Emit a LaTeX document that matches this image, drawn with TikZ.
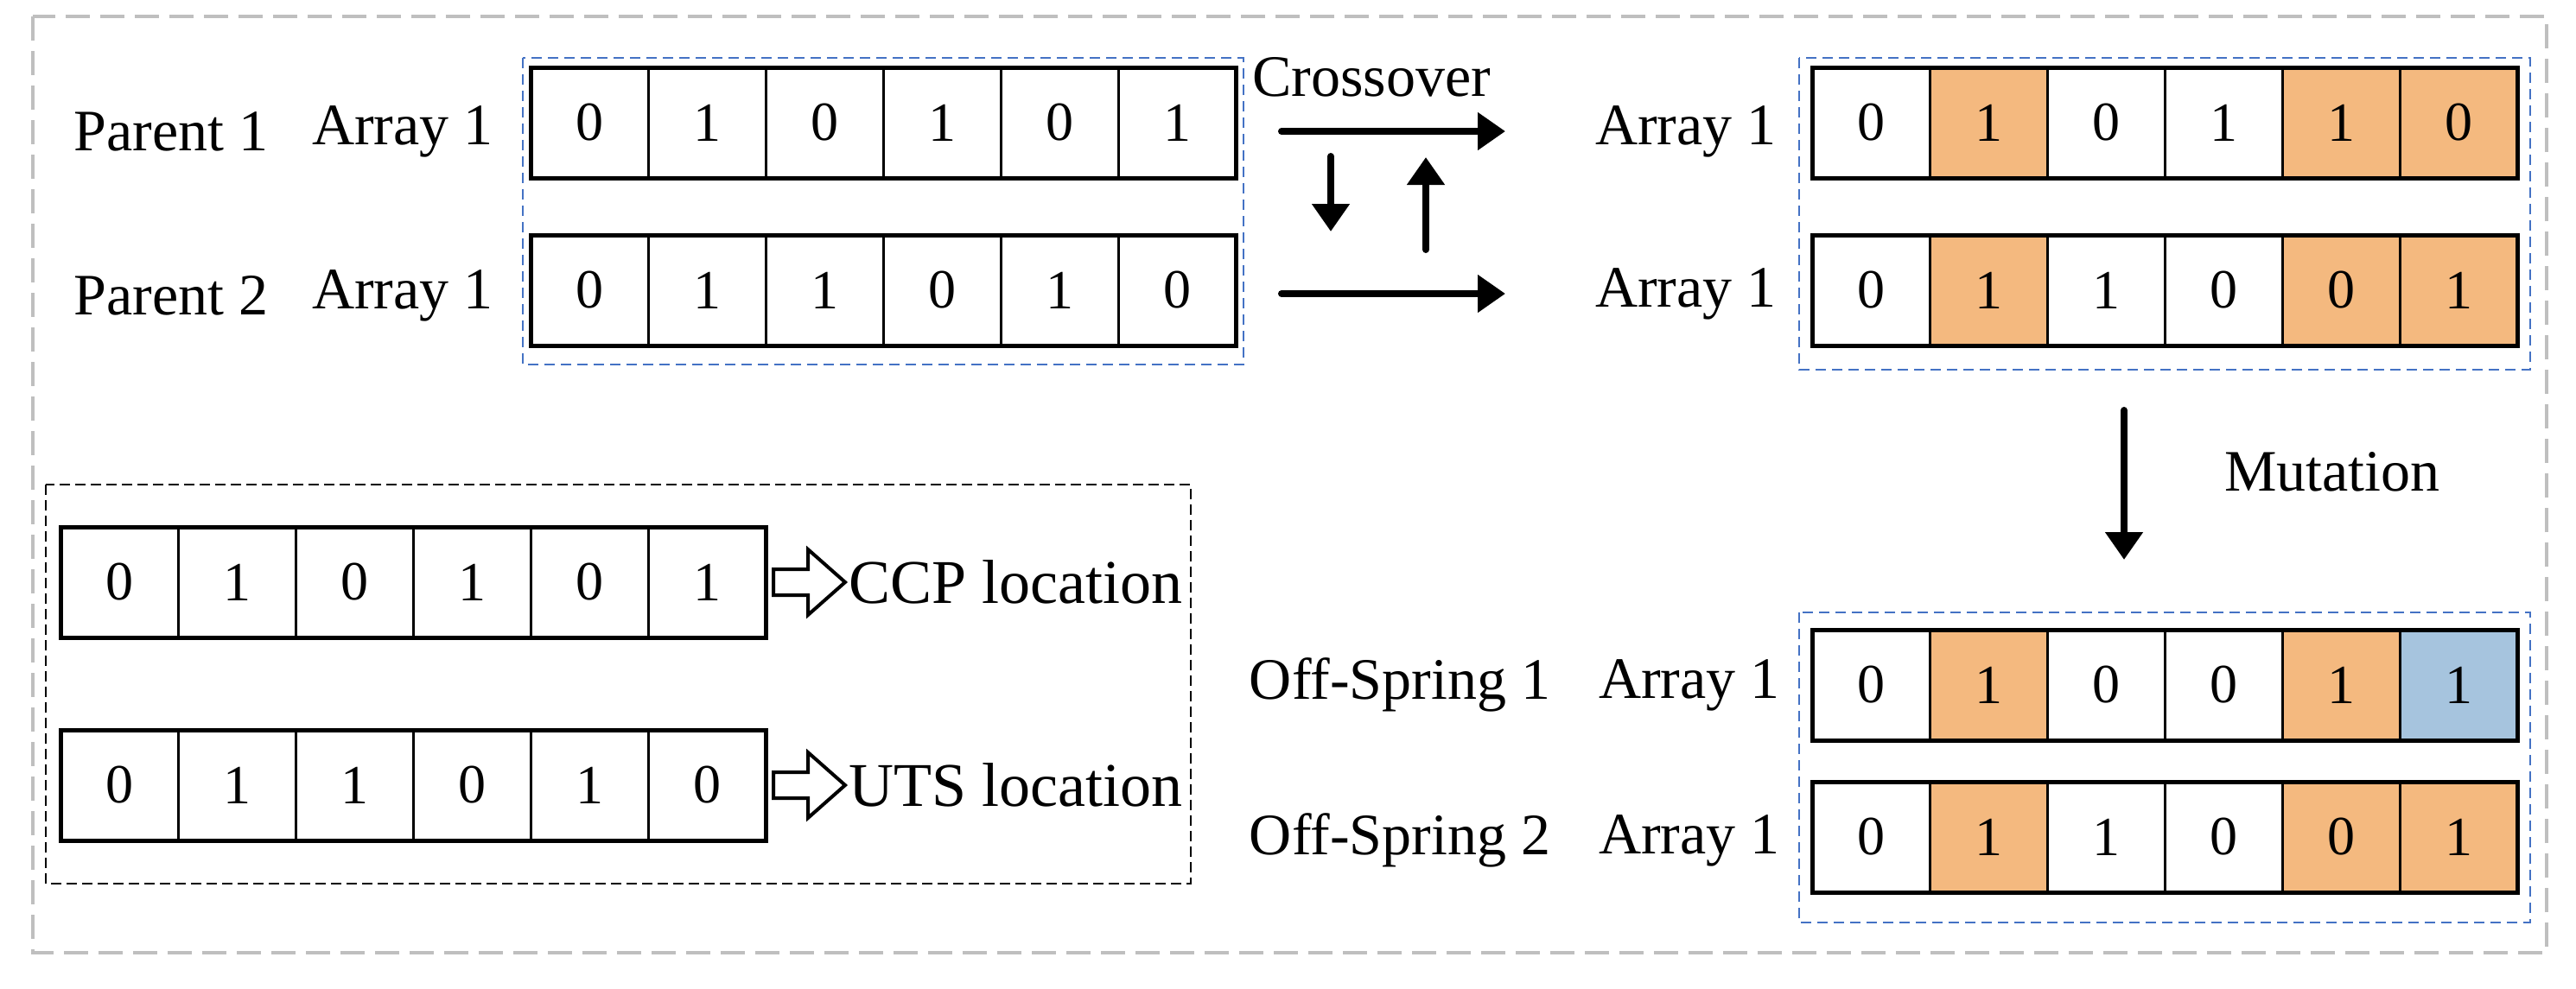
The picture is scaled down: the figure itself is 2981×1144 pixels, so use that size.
\documentclass[tikz,border=0pt]{standalone}
\usepackage{fontspec}
\setmainfont{Liberation Serif}
\usetikzlibrary{arrows.meta}
\definecolor{org}{HTML}{F4B97F}
\definecolor{blu}{HTML}{A6C4DE}
\definecolor{dblue}{HTML}{4472C4}
\newcommand{\garr}[4]{%
  \foreach \v/\c [count=\i] in {#4}{
    \node[cell,fill=\c] (#1c\i) at ({#2+(\i-0.5)*136},{#3+64}) {\v};
  }
  \draw[line width=5pt] (#2,#3) rectangle ++(816,128);
}
\begin{document}
\begin{tikzpicture}[x=1pt,y=-1pt,
  txt/.style={font=\fontsize{68}{72}\selectfont,inner sep=0pt},
  cell/.style={draw,line width=3pt,minimum width=136pt,minimum height=128pt,inner sep=0pt,font=\fontsize{64}{68}\selectfont},
  arr/.style={line width=8pt,line cap=round,-{Triangle[length=32pt,width=42pt]}},
  bdash/.style={draw=dblue,line width=2.5pt,dash pattern=on 12pt off 7pt}]
\useasboundingbox (0,0) rectangle (2981,1144);
\draw[gray!50,line width=4pt,dash pattern=on 28pt off 12pt] (38,19) rectangle (2947,1103);
% top-left
\draw[bdash] (605,67) rectangle (1439,422);
\garr{p1}{614}{78}{0/white,1/white,0/white,1/white,0/white,1/white}
\garr{p2}{614}{272}{0/white,1/white,1/white,0/white,1/white,0/white}
\node[txt] (pl1) at (198,152) {Parent 1};
\node[txt] (pa1) at (466,152) {Array 1};
\node[txt] (pl2) at (198,342) {Parent 2};
\node[txt] (pa2) at (466,342) {Array 1};
% crossover
\node[txt] (cx) at (1587,89) {Crossover};
\coordinate (a1s) at (1483,152); \coordinate (a1e) at (1742,152);
\coordinate (a2s) at (1483,340); \coordinate (a2e) at (1742,340);
\draw[arr] (a1s) -- (a1e);
\draw[arr] (a2s) -- (a2e);
\coordinate (d1) at (1540,181); \coordinate (d2) at (1540,268);
\coordinate (u1) at (1650,289); \coordinate (u2) at (1650,182);
\draw[arr] (d1) -- (d2);
\draw[arr] (u1) -- (u2);
% right top
\node[txt] (ra1) at (1951,152) {Array 1};
\node[txt] (ra2) at (1951,340) {Array 1};
\draw[bdash] (2082,67) rectangle (2928,428);
\garr{c1}{2097}{78}{0/white,1/org,0/white,1/white,1/org,0/org}
\garr{c2}{2097}{272}{0/white,1/org,1/white,0/white,0/org,1/org}
% mutation
\coordinate (m1) at (2458,475); \coordinate (m2) at (2458,648);
\draw[arr] (m1) -- (m2);
\node[txt] (mt) at (2699,546) {Mutation};
% bottom right
\draw[bdash] (2082,709) rectangle (2928,1068);
\garr{o1}{2097}{729}{0/white,1/org,0/white,0/white,1/org,1/blu}
\garr{o2}{2097}{905}{0/white,1/org,1/white,0/white,0/org,1/org}
\node[txt] (ol1) at (1620,793) {Off-Spring 1};
\node[txt] (oa1) at (1955,793) {Array 1};
\node[txt] (ol2) at (1620,973) {Off-Spring 2};
\node[txt] (oa2) at (1955,973) {Array 1};
% bottom left legend
\draw[line width=2.5pt,dash pattern=on 12pt off 6pt] (53,561) rectangle (1378,1023);
\garr{l1}{70}{610}{0/white,1/white,0/white,1/white,0/white,1/white}
\garr{l2}{70}{845}{0/white,1/white,1/white,0/white,1/white,0/white}
\foreach \n/\y in {b1/674,b2/909}{
  \draw[line width=4pt,fill=white] (895,\y-15) -- (935,\y-15) -- (935,\y-38) -- (978,\y) -- (935,\y+38) -- (935,\y+15) -- (895,\y+15) -- cycle;
  \coordinate (\n) at (982,\y);
}
\node[txt,anchor=west,font=\fontsize{72}{76}\selectfont] (ccp) at (b1) {CCP location};
\node[txt,anchor=west,font=\fontsize{72}{76}\selectfont] (uts) at (b2) {UTS location};
\end{tikzpicture}
\end{document}
